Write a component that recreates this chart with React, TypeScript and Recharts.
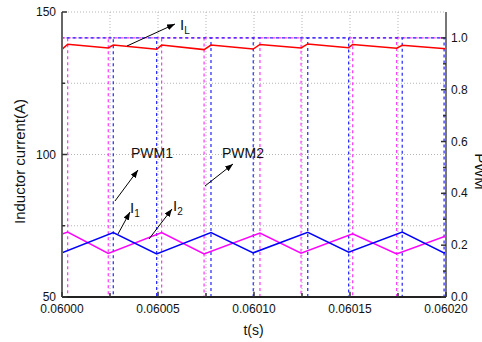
import React from 'react';
import { LineChart, Line, XAxis, YAxis, CartesianGrid, ReferenceLine, ReferenceDot } from 'recharts';

const T0 = 0.06;
const US = 1e-6;
const END_US = 200;

// inductor current I_L  (time as µs after 0.06 s, value in A)
const IL_TIME_US = [0, 2.97, 24.1, 26.7, 49.3, 51.9, 74.0, 77.6, 99.6, 103.1, 124.5, 128.0, 149.3, 151.4, 174.3, 177.2, 200];
const IL_VALUES = [136.9, 138.7, 137.4, 138.4, 136.9, 138.4, 136.8, 138.4, 137.0, 138.6, 137.4, 138.8, 137.5, 138.6, 137.3, 138.3, 137.1];

// phase current I1
const I1_TIME_US = [0, 26.7, 49.3, 77.6, 99.6, 128.0, 149.3, 177.2, 199.0, 200];
const I1_VALUES = [65.5, 72.6, 65.1, 72.6, 65.5, 72.7, 65.7, 72.8, 65.5, 65.7];

// phase current I2
const I2_TIME_US = [0, 2.97, 24.1, 51.9, 74.0, 103.1, 124.5, 151.4, 174.3, 200];
const I2_VALUES = [72.1, 72.8, 65.3, 72.6, 65.1, 72.4, 65.4, 72.2, 65.1, 71.4];

// PWM switching instants (µs)
const PWM1_EDGES_US = [26.7, 49.3, 77.6, 99.6, 128.0, 149.3, 177.2, 199.0];
const PWM2_EDGES_US = [2.97, 24.1, 51.9, 74.0, 103.1, 124.5, 151.4, 174.3];
const PWM_HIGH = 1;
const PWM_LOW = 0;

// axes
const X_TICKS_US = [0, 25, 50, 75, 100, 125, 150, 175, 200];
const LEFT_TICKS = [50, 75, 100, 125, 150];
const LEFT_MAJOR = [50, 100, 150];
const RIGHT_TICKS = [0, 0.1, 0.2, 0.3, 0.4, 0.5, 0.6, 0.7, 0.8, 0.9, 1.0];

// annotations (data coordinates: µs, A)
const ARROW_FROM_US = [33.85, 27.6, 74.48, 29.17, 45.31];
const ARROW_FROM_A = [138.07, 83.68, 88.95, 72.11, 70.35];
const ARROW_TO_US = [58.85, 39.58, 89.06, 35.42, 57.29];
const ARROW_TO_A = [145.79, 94.56, 96.67, 79.82, 80.88];

const LABEL_MAIN = ['I', 'PWM1', 'PWM2', 'I', 'I'];
const LABEL_SUB = ['L', '', '', '1', '2'];
const LABEL_US = [61.46, 35.94, 83.33, 35.42, 57.81];
const LABEL_A = [143.68, 98.77, 98.77, 79.47, 80.35];

const toSec = (u: number) => T0 + u * US;
const series = (ts: number[], vs: number[]) => ts.map((u, i) => ({ t: toSec(u), v: vs[i] }));
const pwm = (edges: number[]) => {
  const out: { t: number; v: number | null }[] = [{ t: toSec(0), v: PWM_HIGH }];
  edges.forEach((e) => {
    const t = toSec(e);
    out.push({ t, v: PWM_HIGH }, { t, v: PWM_LOW }, { t, v: null }, { t, v: PWM_HIGH });
  });
  out.push({ t: toSec(END_US), v: PWM_HIGH });
  return out;
};

const ilData = series(IL_TIME_US, IL_VALUES);
const i1Data = series(I1_TIME_US, I1_VALUES);
const i2Data = series(I2_TIME_US, I2_VALUES);
const pwm1Data = pwm(PWM1_EDGES_US);
const pwm2Data = pwm(PWM2_EDGES_US);
const xTicks = X_TICKS_US.map(toSec);

const AX = '#333';
const TXT = '#111';

const isMajorX = (v: number) => Math.round((v - T0) / (25 * US)) % 2 === 0;

const BottomTick = (p: any) => {
  const major = isMajorX(p.payload.value);
  return (
    <g>
      <line x1={p.x} x2={p.x} y1={p.y} y2={p.y - (major ? 5 : 4)} stroke={AX} strokeWidth={1.5} />
      {major && (
        <text x={p.x} y={p.y + 16} textAnchor="middle" fontSize={12} fill={TXT}>
          {p.payload.value.toFixed(5)}
        </text>
      )}
    </g>
  );
};

const TopTick = (p: any) => {
  const major = isMajorX(p.payload.value);
  return <line x1={p.x} x2={p.x} y1={p.y} y2={p.y + (major ? 5 : 4)} stroke={AX} strokeWidth={1.5} />;
};

const LeftTick = (p: any) => {
  const major = LEFT_MAJOR.includes(p.payload.value);
  return (
    <g>
      <line x1={p.x} x2={p.x + (major ? 5 : 3)} y1={p.y} y2={p.y} stroke={AX} strokeWidth={1.5} />
      {major && (
        <text x={p.x - 6} y={p.y + 4} textAnchor="end" fontSize={12} fill={TXT}>
          {p.payload.value}
        </text>
      )}
    </g>
  );
};

const RightTick = (p: any) => {
  const major = Math.round(p.payload.value * 10) % 2 === 0;
  return (
    <g>
      <line x1={p.x} x2={p.x - (major ? 5 : 3)} y1={p.y} y2={p.y} stroke={AX} strokeWidth={1.5} />
      {major && (
        <text x={p.x + 5} y={p.y + 4} textAnchor="start" fontSize={12} fill={TXT}>
          {p.payload.value.toFixed(1)}
        </text>
      )}
    </g>
  );
};

const LeftLabel = (p: any) => {
  const vb = p.viewBox;
  const x = vb.x + 13;
  const y = vb.y + vb.height / 2 + 7;
  return (
    <text x={x} y={y} transform={`rotate(-90, ${x}, ${y})`} textAnchor="middle" fontSize={15} fill={TXT}>
      Inductor current(A)
    </text>
  );
};

const RightLabel = (p: any) => {
  const vb = p.viewBox;
  const x = vb.x + 29;
  const y = vb.y + vb.height / 2 + 17;
  return (
    <text x={x} y={y} transform={`rotate(90, ${x}, ${y})`} textAnchor="middle" fontSize={15} fill={TXT}>
      PWM
    </text>
  );
};

const BottomLabel = (p: any) => {
  const vb = p.viewBox;
  return (
    <text x={vb.x + vb.width / 2 - 0.5} y={vb.y + 38} textAnchor="middle" fontSize={14} fill={TXT}>
      t(s)
    </text>
  );
};

const arrowShape = (p: any) => (
  <line x1={p.x1} y1={p.y1} x2={p.x2} y2={p.y2} stroke="#000" strokeWidth={1} markerEnd="url(#arrowHead)" />
);

const makeTextShape = (main: string, sub: string) => (p: any) => (
  <text x={p.cx} y={p.cy} fontSize={sub ? 15 : 14} fill={TXT}>
    {main}
    {sub && (
      <tspan fontSize={10} dy={4}>
        {sub}
      </tspan>
    )}
  </text>
);

export default function App() {
  return (
    <div style={{ position: 'absolute', left: 0, top: 0, background: '#fff' }}>
      <LineChart
        width={482}
        height={342}
        margin={{ top: 12, right: 6, bottom: 0, left: 12 }}
        style={{ fontFamily: '"Liberation Sans", Arial, sans-serif' }}
      >
        <defs>
          <marker
            id="arrowHead"
            viewBox="0 0 10 10"
            refX="10"
            refY="5"
            markerWidth="8"
            markerHeight="6"
            orient="auto"
            markerUnits="userSpaceOnUse"
            preserveAspectRatio="none"
          >
            <path d="M0,0 L10,5 L0,10 z" fill="#000" />
          </marker>
        </defs>
        <CartesianGrid yAxisId="left" stroke="#b5b5b5" strokeDasharray="1 2" />
        <XAxis
          type="number"
          dataKey="t"
          domain={[toSec(0), toSec(END_US)]}
          ticks={xTicks}
          interval={0}
          allowDataOverflow
          height={45}
          tickSize={0}
          tickMargin={0}
          tickLine={false}
          tick={BottomTick}
          axisLine={{ stroke: '#222', strokeWidth: 2 }}
          label={BottomLabel}
        />
        <XAxis
          xAxisId="top"
          orientation="top"
          type="number"
          dataKey="t"
          domain={[toSec(0), toSec(END_US)]}
          ticks={xTicks}
          interval={0}
          allowDataOverflow
          height={0}
          tickSize={0}
          tickMargin={0}
          tickLine={false}
          tick={TopTick}
          axisLine={{ stroke: '#666', strokeWidth: 2 }}
        />
        <YAxis
          yAxisId="left"
          type="number"
          domain={[50, 150]}
          ticks={LEFT_TICKS}
          interval={0}
          allowDataOverflow
          width={50}
          tickSize={0}
          tickMargin={0}
          tickLine={false}
          tick={LeftTick}
          axisLine={{ stroke: '#666', strokeWidth: 2 }}
          label={LeftLabel}
        />
        <YAxis
          yAxisId="right"
          orientation="right"
          type="number"
          domain={[0, 1.1]}
          ticks={RIGHT_TICKS}
          interval={0}
          allowDataOverflow
          width={30}
          tickSize={0}
          tickMargin={0}
          tickLine={false}
          tick={RightTick}
          axisLine={{ stroke: '#777', strokeWidth: 2 }}
          label={RightLabel}
        />
        <Line
          yAxisId="right"
          data={pwm2Data}
          dataKey="v"
          type="linear"
          stroke="#ff33ff"
          strokeWidth={1.2}
          strokeDasharray="3 3"
          dot={false}
          activeDot={false}
          isAnimationActive={false}
        />
        <Line
          yAxisId="right"
          data={pwm1Data}
          dataKey="v"
          type="linear"
          stroke="#2222ff"
          strokeWidth={1.2}
          strokeDasharray="3 3"
          strokeDashoffset={1.5}
          dot={false}
          activeDot={false}
          isAnimationActive={false}
        />
        <Line
          yAxisId="left"
          data={ilData}
          dataKey="v"
          type="linear"
          stroke="#ff0000"
          strokeWidth={1.5}
          dot={false}
          activeDot={false}
          isAnimationActive={false}
        />
        <Line
          yAxisId="left"
          data={i2Data}
          dataKey="v"
          type="linear"
          stroke="#ff00ff"
          strokeWidth={1.5}
          dot={false}
          activeDot={false}
          isAnimationActive={false}
        />
        <Line
          yAxisId="left"
          data={i1Data}
          dataKey="v"
          type="linear"
          stroke="#0000ff"
          strokeWidth={1.5}
          dot={false}
          activeDot={false}
          isAnimationActive={false}
        />
        {ARROW_FROM_US.map((u, i) => (
          <ReferenceLine
            key={`arr${i}`}
            yAxisId="left"
            segment={[
              { x: toSec(u), y: ARROW_FROM_A[i] },
              { x: toSec(ARROW_TO_US[i]), y: ARROW_TO_A[i] },
            ]}
            shape={arrowShape}
          />
        ))}
        {LABEL_US.map((u, i) => (
          <ReferenceDot
            key={`lab${i}`}
            yAxisId="left"
            x={toSec(u)}
            y={LABEL_A[i]}
            r={0}
            shape={makeTextShape(LABEL_MAIN[i], LABEL_SUB[i])}
          />
        ))}
      </LineChart>
    </div>
  );
}
